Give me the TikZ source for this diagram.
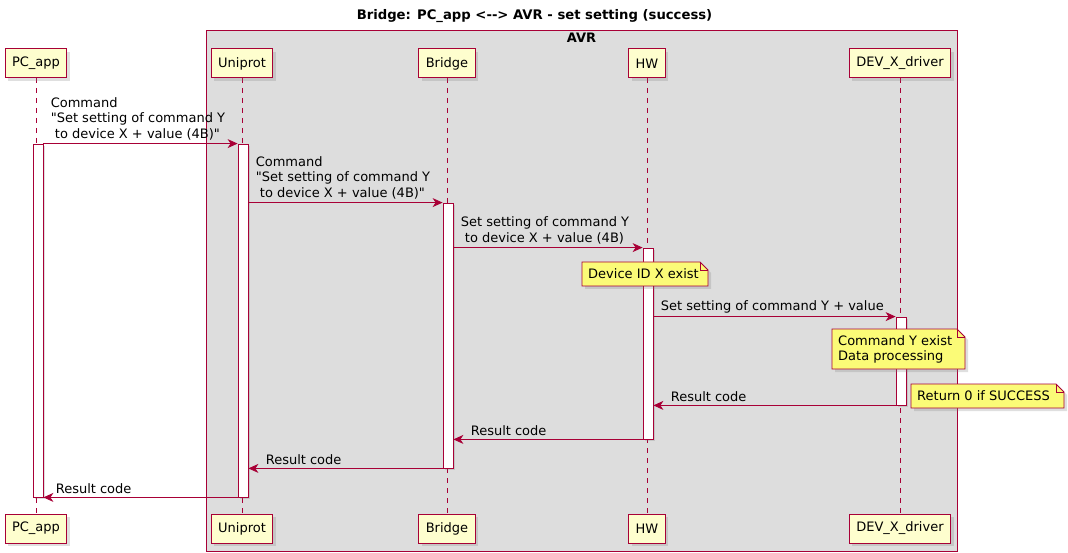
\documentclass[tikz,border=0pt]{standalone}
\usepackage{fontspec}
\setmainfont{DejaVu Sans}[Ligatures=TeXOff]
\usetikzlibrary{positioning}
\usetikzlibrary{arrows.meta}
\usetikzlibrary{shadows}

\definecolor{umlred}{HTML}{A80036}
\definecolor{partfill}{HTML}{FEFECE}
\definecolor{notefill}{HTML}{FBFB77}
\definecolor{avrgrey}{HTML}{DDDDDD}

% note outline with folded corner: x, y, width, height
\newcommand{\drawnote}[4]{%
  \filldraw[fill=notefill, draw=umlred, line width=0.8pt, drop shadow={shadow xshift=3pt, shadow yshift=-3pt, opacity=0.25}]
    (#1,#2) -- ++(#3-8,0) -- ++(8,8) -- ++(0,#4-8) -- ++(-#3,0) -- cycle;
  \draw[umlred, line width=0.8pt] (#1+#3-8,#2) -- ++(0,8) -- ++(8,0);
}

\begin{document}
\begin{tikzpicture}[x=1pt, y=-1pt,
    part/.style={draw=umlred, fill=partfill, line width=1pt, minimum height=29pt, inner xsep=7pt, font=\fontsize{13}{15}\selectfont, drop shadow={shadow xshift=3pt, shadow yshift=-3pt, opacity=0.25}},
    life/.style={draw=umlred, dash pattern=on 5pt off 5pt, line width=0.8pt},
    actbar/.style={draw=umlred, fill=white, line width=0.8pt, minimum width=10pt, inner sep=0pt, drop shadow={shadow xshift=2pt, shadow yshift=-2pt, opacity=0.25}},
    msgarrow/.style={draw=umlred, line width=0.8pt, -{Stealth[length=10pt, width=9pt, inset=3pt]}},
    msg/.style={font=\fontsize{13}{15.5}\selectfont, align=left, inner sep=0pt, anchor=south west},
    notetext/.style={font=\fontsize{13}{15}\selectfont, align=left, inner sep=0pt, anchor=west}]

    \useasboundingbox (0,0) rectangle (1068,553);

    % AVR box and title
    \draw[umlred, fill=avrgrey, line width=0.8pt] (206,30) rectangle (957,551);
    \node[font=\bfseries\fontsize{13.2}{15}\selectfont] (title) at (534.5,16) {Bridge: PC\_app <--> AVR - set setting (success)};
    \node[font=\bfseries\fontsize{13}{15}\selectfont] (avr) at (581.5,38) {AVR};

    % lifelines
    \draw[life] (36,78) -- (36,514);
    \draw[life] (242,78) -- (242,514);
    \draw[life] (447,78) -- (447,514);
    \draw[life] (647,78) -- (647,514);
    \draw[life] (900,78) -- (900,514);

    % participants
    \node[part] (pc) at (36,63.5) {PC\_app};
    \node[part] (uni) at (242,63.5) {Uniprot};
    \node[part] (br) at (447,63.5) {Bridge};
    \node[part] (hw) at (647,63.5) {HW};
    \node[part] (dev) at (900,63.5) {DEV\_X\_driver};
    \node[part] (pcB) at (36,528.5) {PC\_app};
    \node[part] (uniB) at (242,528.5) {Uniprot};
    \node[part] (brB) at (447,528.5) {Bridge};
    \node[part] (hwB) at (647,528.5) {HW};
    \node[part] (devB) at (900,528.5) {DEV\_X\_driver};

    % activations
    \node[actbar, minimum height=353pt] (pcA) at (38,320.5) {};
    \node[actbar, minimum height=353pt] (uA) at (243,320.5) {};
    \node[actbar, minimum height=265pt] (bA) at (448,335.5) {};
    \node[actbar, minimum height=191pt] (hwA) at (648,343.5) {};
    \node[actbar, minimum height=88pt] (dA) at (901,361) {};

    % messages
    \draw[msgarrow] (pcA.north east) -- (uA.north west)
        node[msg, at start, xshift=7pt, yshift=3pt] (m1) {Command\\"Set setting of command Y\\\ to device X + value (4B)"};
    \draw[msgarrow] (uA.east |- bA.north) -- (bA.north west)
        node[msg, at start, xshift=7pt, yshift=3pt] (m2) {Command\\"Set setting of command Y\\\ to device X + value (4B)"};
    \draw[msgarrow] (bA.east |- hwA.north) -- (hwA.north west)
        node[msg, at start, xshift=7pt, yshift=3pt] (m3) {Set setting of command Y\\\ to device X + value (4B)};
    \draw[msgarrow] (hwA.east |- dA.north) -- (dA.north west)
        node[msg, at start, xshift=7pt, yshift=3pt] (m4) {Set setting of command Y + value};
    \draw[msgarrow] (dA.south west) -- (hwA.east |- dA.south)
        node[msg, at end, xshift=17pt, yshift=3pt] (r1) {Result code};
    \draw[msgarrow] (hwA.south west) -- (bA.east |- hwA.south)
        node[msg, at end, xshift=17pt, yshift=3pt] (r2) {Result code};
    \draw[msgarrow] (bA.south west) -- (uA.east |- bA.south)
        node[msg, at end, xshift=17pt, yshift=3pt] (r3) {Result code};
    \draw[msgarrow] (uA.south west) -- (pcA.south east)
        node[msg, at end, xshift=12pt, yshift=3pt] (r4) {Result code};

    % notes
    \drawnote{582}{262}{126}{24}
    \node[notetext] (idnote) at (588,274) {Device ID X exist};
    \drawnote{832}{329}{133}{40}
    \node[notetext] (cmdnote) at (838,349) {Command Y exist\\Data processing};
    \drawnote{911}{384}{153}{24}
    \node[notetext] (retnote) at (917,396) {Return 0 if SUCCESS};
\end{tikzpicture}
\end{document}
